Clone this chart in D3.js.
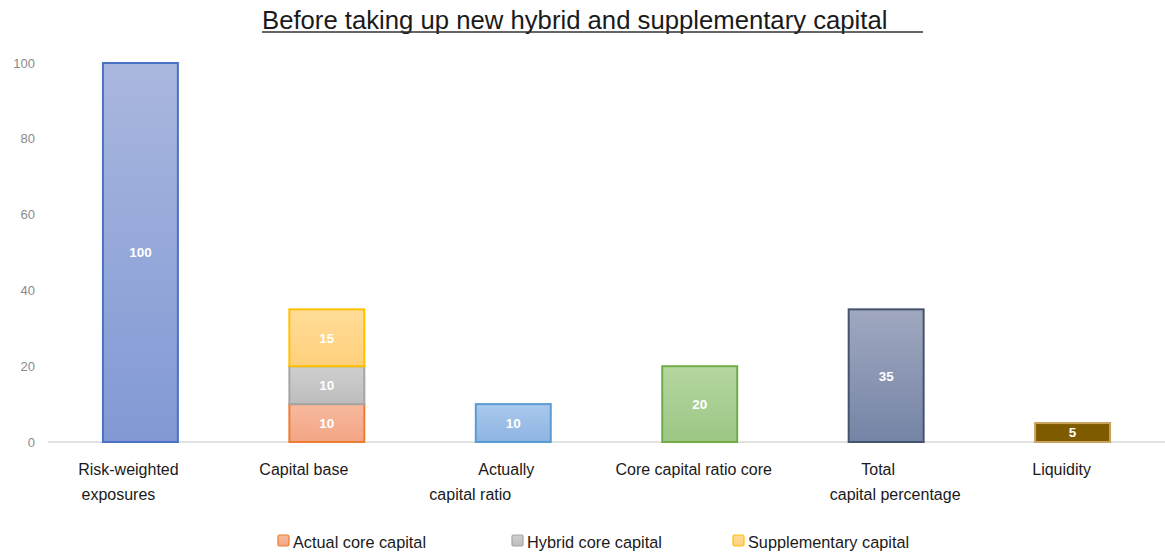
<!DOCTYPE html>
<html>
<head>
<meta charset="utf-8">
<script src="https://cdn.jsdelivr.net/npm/d3@7"></script>
<style>
  html, body { margin: 0; padding: 0; background: #fff; }
  svg { display: block; font-family: "Liberation Sans", Arial, sans-serif; }
</style>
</head>
<body>
<svg id="chart" width="1165" height="555"></svg>
<script>
// ---- data ----
const categories = [
  "Risk-weighted exposures",
  "Capital base",
  "Actually capital ratio",
  "Core capital ratio core",
  "Total capital percentage",
  "Liquidity"
];
const categoryLines = [
  ["Risk-weighted", "exposures"],
  ["Capital base"],
  ["Actually", "capital ratio"],
  ["Core capital ratio core"],
  ["Total", "capital percentage"],
  ["Liquidity"]
];
// single-value bars (Capital base is drawn as a stack instead)
const singleValues = [100, null, 10, 20, 35, 5];
// stacked components of the capital base
const stackSeries = ["Actual core capital", "Hybrid core capital", "Supplementary capital"];
const capitalBaseParts = [10, 10, 15];
const yTicks = [0, 20, 40, 60, 80, 100];
const titleText = "Before taking up new hybrid and supplementary capital";

// ---- styling ----
const singleStyles = [
  { top: "#aab7df", bottom: "#8199d4", stroke: "#4a72c4" },
  null,
  { top: "#a9c9ec", bottom: "#8fb4e2", stroke: "#5b9bd5" },
  { top: "#b5d6a0", bottom: "#9cc784", stroke: "#70ad47" },
  { top: "#a0a8c0", bottom: "#7584a6", stroke: "#44546a" },
  { top: "#7f5b00", bottom: "#7f5b00", stroke: "#c9a35e" }
];
const stackStyles = [
  { top: "#f7b99e", bottom: "#f3a585", stroke: "#ed7d31" },
  { top: "#cfcfcf", bottom: "#bdbdbd", stroke: "#a5a5a5" },
  { top: "#ffdc97", bottom: "#ffd07c", stroke: "#ffc000" }
];
// horizontal nudges of each axis label line relative to its band centre
const labelShift = [[-12, -22], [-23], [-7, -43], [-6], [-8, 9], [-11]];

const svg = d3.select("#chart");
const defs = svg.append("defs");
function gradient(id, s) {
  const g = defs.append("linearGradient").attr("id", id)
    .attr("x1", 0).attr("y1", 0).attr("x2", 0).attr("y2", 1);
  g.append("stop").attr("offset", "0%").attr("stop-color", s.top);
  g.append("stop").attr("offset", "100%").attr("stop-color", s.bottom);
  return `url(#${id})`;
}

const x = d3.scaleBand().domain(categories).range([47, 1166])
  .paddingInner(0.598).paddingOuter(0.3);
const y = d3.scaleLinear().domain([0, 100]).range([442, 63]);

// y axis labels
const yAxis = d3.axisLeft(y).tickValues(yTicks).tickSize(0).tickPadding(0);
const yg = svg.append("g").attr("transform", "translate(35,0)").call(yAxis);
yg.select(".domain").remove();
yg.selectAll("text").attr("fill", "#8a8a8a").style("font-size", "13px")
  .style("font-family", "'Liberation Sans', Arial, sans-serif");

// baseline
const xAxis = d3.axisBottom(x).tickSize(0).tickFormat("");
const xg = svg.append("g").attr("transform", `translate(0,${y(0)})`).call(xAxis);
xg.select(".domain").attr("stroke", "#d9d9d9").attr("stroke-width", 1.5)
  .attr("d", "M48,0H1165");

// single bars
const singles = categories.map((c, i) => ({ c, v: singleValues[i], s: singleStyles[i], i }))
  .filter(d => d.v != null);
svg.append("g").selectAll("rect").data(singles).join("rect")
  .attr("x", d => x(d.c))
  .attr("y", d => y(d.v))
  .attr("width", x.bandwidth())
  .attr("height", d => y(0) - y(d.v))
  .attr("fill", d => gradient("g" + d.i, d.s))
  .attr("stroke", d => d.s.stroke)
  .attr("stroke-width", 2);
svg.append("g").selectAll("text").data(singles).join("text")
  .attr("x", d => x(d.c) + x.bandwidth() / 2)
  .attr("y", d => (y(d.v) + y(0)) / 2)
  .attr("dy", "0.36em")
  .attr("text-anchor", "middle")
  .attr("fill", "#fff").style("font-size", "13.5px").style("font-weight", "bold")
  .text(d => d.v);

// stacked capital base
const stackRow = {};
stackSeries.forEach((k, i) => stackRow[k] = capitalBaseParts[i]);
const stacked = d3.stack().keys(stackSeries)([stackRow]);
const cb = categories[1];
const segs = stacked.map((layer, i) => ({ y0: layer[0][0], y1: layer[0][1], s: stackStyles[i], i }));
svg.append("g").selectAll("rect").data(segs).join("rect")
  .attr("x", x(cb))
  .attr("y", d => y(d.y1))
  .attr("width", x.bandwidth())
  .attr("height", d => y(d.y0) - y(d.y1))
  .attr("fill", d => gradient("s" + d.i, d.s))
  .attr("stroke", d => d.s.stroke)
  .attr("stroke-width", 2);
svg.append("g").selectAll("text").data(segs).join("text")
  .attr("x", x(cb) + x.bandwidth() / 2)
  .attr("y", d => (y(d.y0) + y(d.y1)) / 2)
  .attr("dy", "0.36em")
  .attr("text-anchor", "middle")
  .attr("fill", "#fff").style("font-size", "13.5px").style("font-weight", "bold")
  .text(d => d.y1 - d.y0);

// category labels
const lab = svg.append("g");
categories.forEach((c, i) => {
  categoryLines[i].forEach((line, j) => {
    lab.append("text")
      .attr("x", x(c) + x.bandwidth() / 2 + labelShift[i][j])
      .attr("y", 475 + j * 25)
      .attr("text-anchor", "middle")
      .attr("fill", "#1a1a1a").style("font-size", "16px")
      .text(line);
  });
});

// title with underline
svg.append("text")
  .attr("x", 262).attr("y", 29)
  .attr("fill", "#1a1a1a").style("font-size", "25.7px")
  .text(titleText);
svg.append("line").attr("x1", 262).attr("x2", 923).attr("y1", 32).attr("y2", 32)
  .attr("stroke", "#333").attr("stroke-width", 1.3);

// legend
const legendX = [278, 512, 733];
const lg = svg.append("g");
stackSeries.forEach((k, i) => {
  lg.append("rect").attr("x", legendX[i]).attr("y", 535).attr("width", 11).attr("height", 11)
    .attr("rx", 1.5)
    .attr("fill", gradient("l" + i, stackStyles[i]))
    .attr("stroke", stackStyles[i].stroke).attr("stroke-width", 1.2);
  lg.append("text").attr("x", legendX[i] + 15).attr("y", 547.5)
    .attr("fill", "#1a1a1a").style("font-size", "16.3px").text(k);
});
</script>
</body>
</html>
